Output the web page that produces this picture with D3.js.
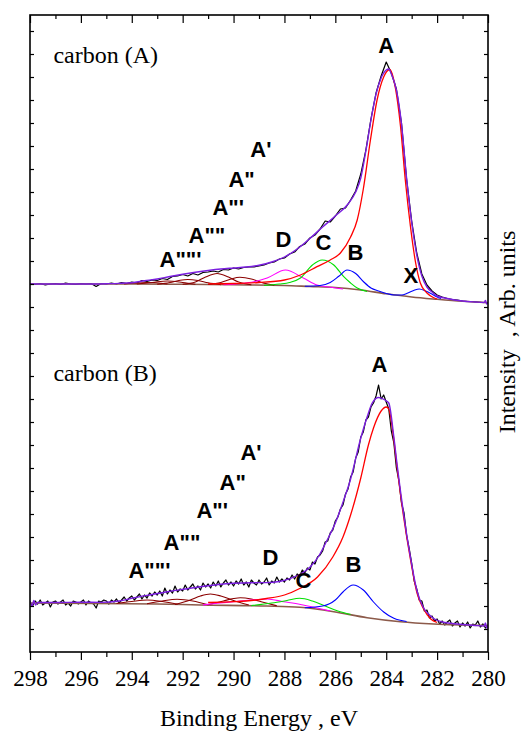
<!DOCTYPE html>
<html>
<head>
<meta charset="utf-8">
<script src="https://cdn.jsdelivr.net/npm/d3@7"></script>
<style>
  body { margin: 0; background: #fff; }
  svg { display: block; }
  .serif { font-family: "Liberation Serif", "Times New Roman", Tinos, "DejaVu Serif", "Noto Serif", serif; }
  .tick line { stroke: #000; stroke-width: 1.2; }
  .peak-label { font-family: "Liberation Sans", Arial, Arimo, "DejaVu Sans", sans-serif; font-weight: bold; font-size: 22px; }
</style>
</head>
<body>
<div id="chart"></div>
<script>
// binding energy ticks (eV)
const energyTicks = [298, 296, 294, 292, 290, 288, 286, 284, 282, 280];
const minorTicks = [297, 295, 293, 291, 289, 287, 285, 283, 281];
// side ticks on the intensity axis (arb. units)
const intensityTicks = [23, 46, 69, 92, 115, 138, 161, 184, 207, 230, 253, 276, 299, 322, 345,
  368, 391, 414, 437, 460, 483, 506, 529, 552, 575, 598, 621];

// vertical offsets of the two stacked spectra
const offsetA = 368;
const offsetB = 49;

// ---------- carbon (A) ----------
// raw spectrum, 298 -> 280 eV, step 0.2
const rawStepA = 0.2;
const rawA = [
  0, -0.5, 0.5, -1, 0, 0.5, -0.5, 1, 0, -0.5,
  0.5, 0, 0.5, -2.5, 0.5, 0, 1, 0, 1.5, 0.5,
  2, 1, 3.5, 2.5, 4, 3.5, 5.5, 4.5, 7.5, 8,
  9.5, 8, 10.5, 9, 11.5, 12, 13, 12, 14.5, 14,
  16, 15, 16.5, 17, 17, 18, 19, 21, 22, 25,
  26, 30, 32, 37.5, 40, 46, 49, 55, 63, 62,
  68, 75, 76, 84, 93, 110, 134, 165, 191, 208,
  222, 211, 195, 161, 105, 63, 31, 10, -1, -7,
  -11, -13, -14.5, -15.5, -16, -17, -17.5, -17.5, -18, -18.5,
  -18.5
];
const envelopeA = [[298,0],[297,0],[296,0],[295,0.3],[294.5,0.6],[294,1.3],[293.5,3.2],[293,5],
  [292.5,7.5],[292,9.7],[291.5,11.7],[291,13.5],[290.5,15],[290,16],[289.5,17],[289,18.8],
  [288.5,22],[288,27],[287.5,35],[287,45.5],[286.5,57],[286,68],[285.5,80],[285.2,92],
  [285,106],[284.8,133],[284.6,164],[284.4,190],[284.2,206],[284,214],[283.9,215],[283.8,210],
  [283.6,194],[283.4,160],[283.2,106],[283,62],[282.8,29],[282.6,8],[282.4,-3],[282.2,-8],
  [282,-12],[281.6,-14.5],[281,-17],[280.5,-18],[280.15,-18.5],[280.1,-16.5],[280.05,-20],[280,-18.5]];
const backgroundA = [[298,0],[294,0],[292,-0.3],[290,-0.8],[288,-1.5],[287,-2.5],[286,-3.5],
  [285,-6],[284,-9.8],[283,-13],[282,-15.3],[281,-17.3],[280,-18.7]];
const peakA_A = [[291,0.2],[290,0.5],[289,1.5],[288,4],[287.37,9],[286.72,17.3],[286.2,24],
  [285.8,31],[285.4,47],[285.14,64],[284.9,95],[284.62,144],[284.36,184],[284.1,207],
  [283.86,214.5],[283.64,196],[283.44,158],[283.25,104],[283.05,58],[282.85,22],[282.66,1],
  [282.4,-9],[282.15,-13.5],[282,-15]];
const peakB_A = [[287.2,-2.2],[286.6,-1.5],[286.2,1.5],[285.85,8],[285.54,14],[285.2,10.5],
  [284.88,2],[284.6,-4],[284.3,-7],[284,-9.5],[283.7,-11],[283.4,-11],[283.15,-9],[282.92,-6.5],
  [282.7,-5],[282.45,-7],[282.25,-9.5],[282,-13],[281.85,-14.5]];
const peakC_A = [[288.8,-1.4],[288.2,0],[287.8,1.5],[287.37,6],[286.9,19],[286.52,24],
  [286.06,19],[285.67,7.3],[285.4,1],[285.14,-4],[284.75,-7.5]];
const peakD_A = [[290.4,-0.7],[289.7,0.5],[289.2,2.3],[288.68,6],[287.96,14],[287.24,5.7],
  [286.72,-1],[286.2,-3.3],[285.7,-5]];
const satellitesA = [
  [[291,-0.5],[290.5,1.5],[290.1,5],[289.75,6.7],[289.3,5],[288.9,1.5],[288.4,-1.2]],
  [[292,-0.3],[291.5,2],[291.1,7],[290.65,10.5],[290.2,7],[289.8,2],[289.3,-0.8]],
  [[293,-0.2],[292.5,1.5],[292.1,3.8],[291.8,4.5],[291.4,3.5],[291,1.2],[290.5,-0.6]],
  [[293.8,0],[293.2,1.5],[292.6,3],[292,1.5],[291.5,-0.3]],
  [[294.3,0],[293.4,1.5],[292.6,0]]
];

// ---------- carbon (B) ----------
// raw spectrum, 298 -> 280 eV, step 0.1
const rawStepB = 0.1;
const rawB = [
  1, -3, 2, -1, 3, -2, 0, 2, -4, 1,
  2, -1, 1, 3, -2, 0, -3, 2, 1, -1,
  1, 3, -2, 2, 0, -1, -5, 2, 1, 3,
  2, -1, 3, 1, 4, 0, 3, 6, 2, 5,
  7, 3, 6, 9, 4, 8, 5, 10, 7, 11,
  8, 12, 7, 15, 9, 13, 10, 17, 11, 14,
  12, 18, 13, 16, 19, 14, 17, 13, 20, 16,
  19, 15, 21, 17, 22, 16, 20, 23, 18, 21,
  17, 22, 19, 24, 18, 21, 16, 23, 20, 18,
  23, 19, 21, 25, 18, 22, 20, 26, 21, 24,
  21, 25, 23, 28, 24, 29, 27, 33, 30, 35,
  33, 41, 39, 46, 48, 52, 61, 62, 70, 73,
  82, 86, 94, 98, 109, 114, 126, 131, 145, 151,
  166, 171, 183, 186, 196, 200, 207, 218, 204, 208,
  201, 194, 172, 160, 135, 122, 100, 90, 68, 55,
  40, 22, 14, 3, 2, -8, -7, -15, -13, -18,
  -16, -21, -18, -22, -19, -17, -23, -20, -18, -24,
  -20, -23, -19, -25, -21, -22, -18, -24, -21, -25,
  -22
];
const envelopeB = [[298,2],[297.92,-3],[297.85,2.5],[297.78,-2],[297.7,0.5],[297,0.5],[296,0.8],
  [295.2,0.6],[294.5,2],[293.9,5.3],[293.2,8.5],[292.6,11.3],[291.9,14],[291.3,16.3],[290.6,18.5],
  [290,19.7],[289.3,20.3],[288.7,20.4],[288.2,21.5],[287.76,24.7],[287.37,29],[286.98,36.3],
  [286.65,47],[286.32,63],[286,80],[285.67,103],[285.41,123],[285.01,164],[284.75,186],
  [284.55,200],[284.3,205.5],[284.05,203],[283.9,200],[283.7,166],[283.57,138],[283.31,88],
  [283.05,46],[282.79,12],[282.53,-5],[282.3,-12],[282.1,-16],[281.8,-19],[281.48,-20.3],
  [281,-21.5],[280.5,-22.5],[280.15,-23],[280.1,-20],[280.05,-25],[280,-22]];
const backgroundB = [[298,0],[293,-1],[291.3,-2],[288.7,-3],[287.4,-4.3],[286.06,-8.7],
  [284.75,-14.7],[283.44,-18.7],[282.13,-21],[280,-22.5]];
const peakA_B = [[291,0.5],[290,1.3],[289.5,2],[288.7,4.5],[288,8],[287.4,14.5],[286.7,26],
  [286.1,46],[285.7,66],[285.4,88],[285,125],[284.7,158],[284.5,175],[284.2,192],[284,196],
  [283.9,194],[283.7,163],[283.57,135],[283.31,85],[283.05,44],[282.79,10],[282.53,-6],
  [282.25,-16],[282,-19.5]];
const peakB_B = [[287.2,-4.8],[286.5,-3],[286,3],[285.7,11],[285.3,18],[284.9,13],[284.5,1],
  [284.1,-9],[283.7,-15.3],[283.2,-18.5]];
const peakC_B = [[289.3,-2.6],[288.5,0],[287.9,2.5],[287.4,4.7],[286.9,2],[286.4,-3],
  [285.9,-8],[285.4,-11.5]];
const peakD_B = [[291.2,-1.9],[290.64,-0.3],[290,1.3],[289.34,3],[288.68,4],[288.03,1.3],
  [287.37,-1.5],[286.72,-5],[286.2,-8]];
const satellitesB = [
  [[292.3,-1.5],[291.7,3],[291.3,7],[290.91,9],[290.5,7],[290,2.5],[289.4,-2]],
  [[291,-1.8],[290.4,2],[290,4.5],[289.73,5.3],[289.3,4],[288.8,0.5],[288.3,-2.8]],
  [[293.4,-0.8],[292.8,2],[292.22,3.7],[291.6,2],[291,-1.8]],
  [[294.6,-0.5],[294,1.5],[293.4,3],[292.8,1.5],[292.2,-1.2]]
];

// peak labels: text, energy, intensity above the panel baseline
const labelsA = [["A", 284.31, 231], ["A'", 289.34, 127], ["A\"", 290.2, 97], ["A\"'", 290.83, 69],
  ["A\"\"", 291.77, 41], ["A\"\"'", 292.91, 17], ["D", 288.35, 37], ["C", 286.78, 34],
  ["B", 285.52, 24], ["X", 283.32, 1]];
const labelsB = [["A", 284.58, 231], ["A'", 289.73, 143], ["A\"", 290.55, 113], ["A\"'", 291.46, 85],
  ["A\"\"", 292.75, 53], ["A\"\"'", 294.13, 25], ["D", 288.86, 38], ["C", 287.57, 15],
  ["B", 285.6, 31]];

var margin = { top: 15, right: 38, bottom: 82, left: 30 },
  width = 526 - margin.left - margin.right,
  height = 734 - margin.top - margin.bottom;

var serifFont = "'Liberation Serif', 'Times New Roman', Tinos, 'DejaVu Serif', serif";

var svg = d3.select("#chart")
  .append("svg")
  .attr("width", 526)
  .attr("height", 734)
  .append("g")
  .attr("transform", "translate(" + margin.left + "," + margin.top + ")");

var x = d3.scaleLinear().domain([298, 280]).range([0, width]);
var y = d3.scaleLinear().domain([0, 637]).range([height, 0]);

svg.append("clipPath").attr("id", "clip")
  .append("rect").attr("width", width).attr("height", height);

var plot = svg.append("g").attr("clip-path", "url(#clip)");

function drawCurve(data, offset, color, curve, sw) {
  var line = d3.line()
    .x(function (d) { return x(d[0]); })
    .y(function (d) { return y(d[1] + offset); })
    .curve(curve);
  plot.append("path")
    .datum(data)
    .attr("fill", "none")
    .attr("stroke", color)
    .attr("stroke-width", sw)
    .attr("stroke-linejoin", "round")
    .attr("d", line);
}

function rawPoints(values, step) {
  return values.map(function (v, i) { return [298 - i * step, v]; });
}

function drawPanel(p, offset) {
  drawCurve(rawPoints(p.raw, p.step), offset, "#000", d3.curveLinear, 1.2);
  drawCurve(p.background, offset, "#8c5a4a", d3.curveMonotoneX, 1.6);
  p.satellites.forEach(function (s) {
    drawCurve(s, offset, "#8b0000", d3.curveMonotoneX, 1.1);
  });
  drawCurve(p.peakD, offset, "#ff00ff", d3.curveMonotoneX, 1.1);
  drawCurve(p.peakC, offset, "#00e000", d3.curveMonotoneX, 1.1);
  drawCurve(p.peakB, offset, "#0000ff", d3.curveMonotoneX, 1.1);
  drawCurve(p.peakA, offset, "#ff0000", d3.curveMonotoneX, 1.3);
  drawCurve(p.envelope, offset, "#7b1fe0", d3.curveMonotoneX, 1.4);
}

drawPanel({ raw: rawA, step: rawStepA, background: backgroundA, satellites: satellitesA,
  peakA: peakA_A, peakB: peakB_A, peakC: peakC_A, peakD: peakD_A, envelope: envelopeA }, offsetA);
drawPanel({ raw: rawB, step: rawStepB, background: backgroundB, satellites: satellitesB,
  peakA: peakA_B, peakB: peakB_B, peakC: peakC_B, peakD: peakD_B, envelope: envelopeB }, offsetB);

// peak labels
[[labelsA, offsetA], [labelsB, offsetB]].forEach(function (set) {
  svg.selectAll(null)
    .data(set[0])
    .enter()
    .append("text")
    .attr("class", "peak-label")
    .attr("x", function (d) { return x(d[1]); })
    .attr("y", function (d) { return y(d[2] + set[1]); })
    .text(function (d) { return d[0]; });
});

// sample names
svg.append("text").attr("class", "serif").attr("x", x(297.08)).attr("y", y(offsetA + 221))
  .style("font-size", "24px").text("carbon (A)");
svg.append("text").attr("class", "serif").attr("x", x(297.08)).attr("y", y(offsetB + 222))
  .style("font-size", "24px").text("carbon (B)");

// axes
var gxMajor = svg.append("g").attr("transform", "translate(0," + height + ")")
  .call(d3.axisBottom(x).tickValues(energyTicks).tickSize(8).tickPadding(10).tickFormat(d3.format("d")));
gxMajor.selectAll("text")
  .style("font-family", serifFont)
  .style("font-size", "23px")
  .style("fill", "#000");
var gxMinor = svg.append("g").attr("transform", "translate(0," + height + ")")
  .call(d3.axisBottom(x).tickValues(minorTicks).tickSize(5).tickFormat(""));
var gtMajor = svg.append("g").call(d3.axisTop(x).tickValues(energyTicks).tickSize(-8).tickFormat(""));
var gtMinor = svg.append("g").call(d3.axisTop(x).tickValues(minorTicks).tickSize(-4).tickFormat(""));
var gyLeft = svg.append("g").call(d3.axisLeft(y).tickValues(intensityTicks).tickSize(-4).tickFormat(""));
var gyRight = svg.append("g").attr("transform", "translate(" + width + ",0)")
  .call(d3.axisRight(y).tickValues(intensityTicks).tickSize(-4).tickFormat(""));
[gxMajor, gxMinor, gtMajor, gtMinor, gyLeft, gyRight].forEach(function (g) {
  g.select(".domain").remove();
});

svg.append("rect")
  .attr("width", width)
  .attr("height", height)
  .attr("fill", "none")
  .attr("stroke", "#000")
  .attr("stroke-width", 1.6);

// axis titles
svg.append("text")
  .attr("class", "serif")
  .attr("x", width / 2)
  .attr("y", height + 74)
  .attr("text-anchor", "middle")
  .style("font-size", "24px")
  .style("white-space", "pre")
  .text("Binding Energy , eV");

svg.append("text")
  .attr("class", "serif")
  .attr("transform", "translate(" + (width + 27) + "," + 317 + ") rotate(-90)")
  .attr("text-anchor", "middle")
  .style("font-size", "24px")
  .style("white-space", "pre")
  .text("Intensity  , Arb. units");
</script>
</body>
</html>
